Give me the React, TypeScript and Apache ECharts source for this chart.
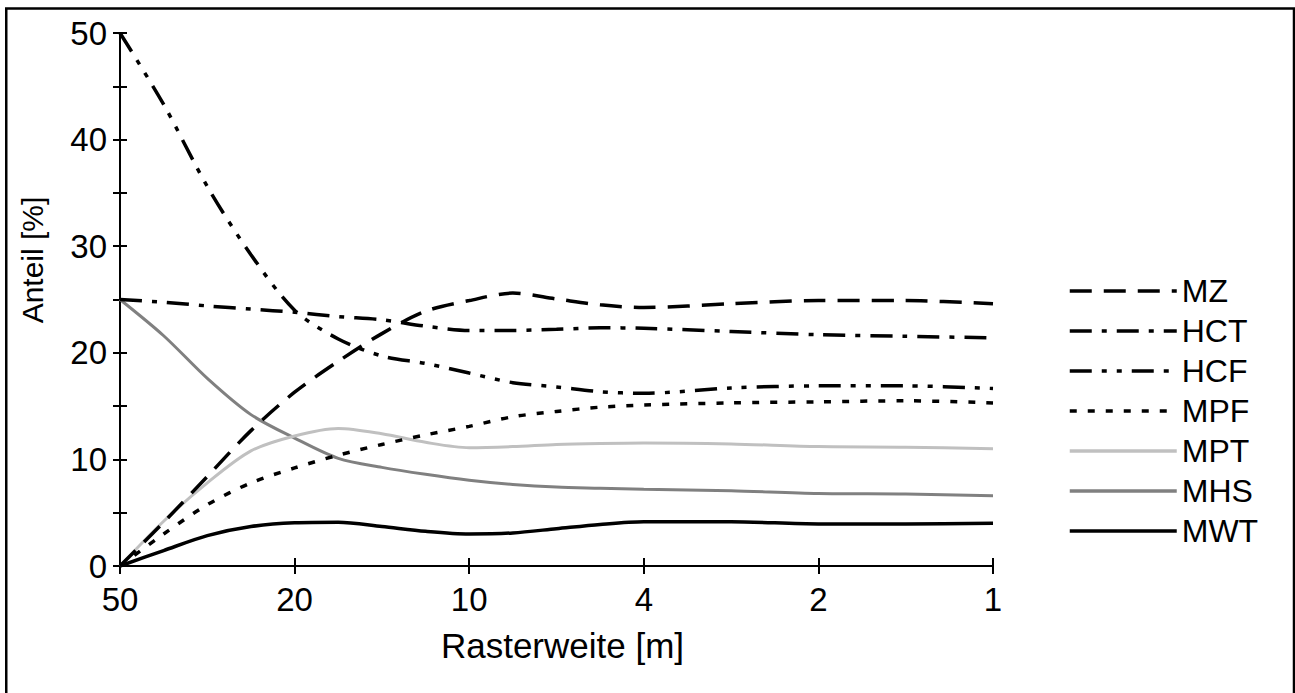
import React, { useEffect, useRef } from "react";
import * as echarts from "echarts";

const xLabels = ["50", "20", "10", "4", "2", "1"];
const xPos = [0, 0.25, 0.5, 0.75, 1, 1.25, 1.5, 1.75, 2, 2.25, 2.5, 2.75, 3, 3.5, 4, 4.5, 5];
const mz = [0, 4.1, 8.4, 12.7, 16.3, 19.2, 21.8, 23.9, 24.9, 25.6, 25.05, 24.5, 24.25, 24.6, 24.9, 24.9, 24.6];
const hct = [25, 24.75, 24.4, 24.1, 23.8, 23.4, 23.1, 22.5, 22.1, 22.1, 22.2, 22.35, 22.3, 22.0, 21.7, 21.55, 21.4];
const hcf = [50, 43.3, 35.6, 29.2, 24.0, 21.3, 19.7, 19.0, 18.1, 17.2, 16.8, 16.35, 16.2, 16.7, 16.9, 16.9, 16.65];
const mpf = [0, 3.0, 5.75, 7.8, 9.2, 10.4, 11.4, 12.3, 13.1, 14.0, 14.5, 14.9, 15.1, 15.3, 15.4, 15.5, 15.3];
const mpt = [0, 4.2, 7.8, 10.8, 12.2, 12.9, 12.4, 11.6, 11.1, 11.2, 11.4, 11.5, 11.55, 11.45, 11.2, 11.15, 11.0];
const mhs = [25, 21.6, 17.6, 14.2, 12.0, 10.1, 9.25, 8.6, 8.05, 7.65, 7.4, 7.3, 7.2, 7.05, 6.8, 6.75, 6.6];
const mwt = [0, 1.45, 2.85, 3.7, 4.05, 4.1, 3.7, 3.25, 3.0, 3.1, 3.5, 3.9, 4.15, 4.15, 3.95, 3.95, 4.0];

const seriesNames = ["MZ", "HCT", "HCF", "MPF", "MPT", "MHS", "MWT"];
const seriesValues = [mz, hct, hcf, mpf, mpt, mhs, mwt];
const seriesColors = ["#000000", "#000000", "#000000", "#000000", "#c0c0c0", "#808080", "#000000"];
const seriesDash: any[] = [
  [22, 12],
  [22, 10, 5, 10],
  [22, 10, 5, 10, 5, 10],
  [7, 11],
  "solid",
  "solid",
  "solid",
];
const seriesWidth = [3.5, 3.5, 3.5, 3.5, 3, 3, 3.5];

const FONT = "'Liberation Sans', Arial, sans-serif";

export default function App() {
  const ref = useRef<HTMLDivElement>(null);
  useEffect(() => {
    document.body.style.margin = "0";
    const chart = echarts.init(ref.current!, null, { renderer: "svg" });
    const series = seriesNames.map((name, i) => ({
      name,
      type: "line",
      smooth: 0.3,
      symbol: "none",
      data: xPos.map((x, j) => [x, seriesValues[i][j]]),
      lineStyle: { color: seriesColors[i], width: seriesWidth[i], type: seriesDash[i] },
      itemStyle: { color: seriesColors[i] },
      z: 10 - i,
    }));
    chart.setOption({
      animation: false,
      backgroundColor: "#ffffff",
      textStyle: { fontFamily: FONT },
      grid: { left: 120, right: 302, top: 33, bottom: 127 },
      xAxis: [
        {
          type: "value",
          min: 0,
          max: 5,
          interval: 1,
          position: "bottom",
          axisLine: { show: true, lineStyle: { color: "#000", width: 2 } },
          axisTick: { show: true, inside: false, length: 8, lineStyle: { color: "#000", width: 2 } },
          axisLabel: {
            margin: 17,
            fontSize: 33,
            color: "#000",
            fontFamily: FONT,
            formatter: (v: number) => xLabels[Math.round(v)] ?? "",
          },
          splitLine: { show: false },
          name: "Rasterweite [m]",
          nameLocation: "middle",
          nameGap: 62,
          nameTextStyle: { fontSize: 35, color: "#000", fontFamily: FONT, padding: [0, 0, 0, 12] },
        },
        {
          type: "value",
          min: 0,
          max: 5,
          interval: 1,
          position: "bottom",
          offset: 0,
          axisLine: { show: false },
          axisTick: { show: true, inside: true, length: 8, lineStyle: { color: "#000", width: 2 } },
          axisLabel: { show: false },
          splitLine: { show: false },
        },
      ],
      yAxis: [
        {
          type: "value",
          min: 0,
          max: 50,
          interval: 5,
          position: "left",
          axisLine: { show: true, lineStyle: { color: "#000", width: 2 } },
          axisTick: { show: true, inside: false, length: 7, lineStyle: { color: "#000", width: 2 } },
          axisLabel: {
            margin: 13,
            fontSize: 33,
            color: "#000",
            fontFamily: FONT,
            formatter: (v: number) => (v % 10 === 0 ? String(v) : ""),
          },
          splitLine: { show: false },
        },
        {
          type: "value",
          min: 0,
          max: 50,
          interval: 5,
          position: "left",
          offset: 0,
          axisLine: { show: false },
          axisTick: { show: true, inside: true, length: 7, lineStyle: { color: "#000", width: 2 } },
          axisLabel: { show: false },
          splitLine: { show: false },
        },
      ],
      legend: {
        orient: "vertical",
        left: 1063,
        top: 270,
        itemWidth: 107,
        itemHeight: 30,
        itemGap: 8,
        data: seriesNames,
        itemStyle: { opacity: 0 },
        lineStyle: { width: 3.5 },
        textStyle: { fontSize: 32, lineHeight: 32, color: "#000", fontFamily: FONT },
      },
      graphic: [
        {
          type: "rect",
          shape: { x: 6.25, y: 8.5, width: 1287.75, height: 720 },
          style: { fill: "none", stroke: "#000", lineWidth: 2.5 },
          silent: true,
        },
        {
          type: "text",
          x: 32,
          y: 260,
          rotation: Math.PI / 2,
          style: {
            text: "Anteil [%]",
            fontSize: 30,
            fontFamily: FONT,
            fill: "#000",
            align: "center",
            verticalAlign: "middle",
          },
        },
      ],
      series,
    });
    return () => chart.dispose();
  }, []);
  return <div ref={ref} style={{ width: 1295, height: 693 }} />;
}
